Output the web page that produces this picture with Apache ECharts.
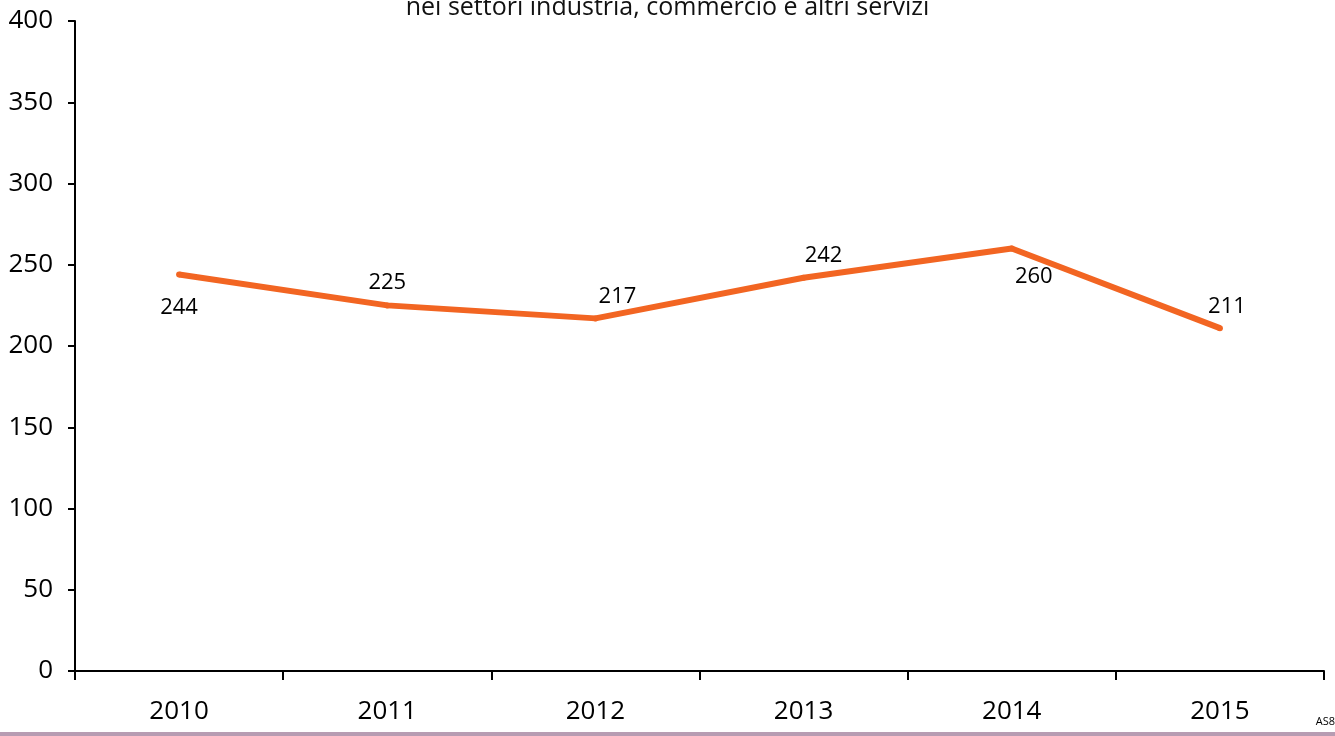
<!DOCTYPE html>
<html>
<head>
<meta charset="utf-8">
<script src="https://cdn.jsdelivr.net/npm/echarts@6/dist/echarts.min.js"></script>
<style>
  html, body { margin: 0; padding: 0; background: #fff; }
  #main { width: 1335px; height: 736px; }
</style>
</head>
<body>
<div id="main"></div>
<script>
var years = ['2010', '2011', '2012', '2013', '2014', '2015'];
var values = [244, 225, 217, 242, 260, 211];
var titleText = 'nei settori industria, commercio e altri servizi';

var chart = echarts.init(document.getElementById('main'));

// where each value label sits relative to its point
var labelSide = function(i) {
	switch (i) {
		case 0: return { position: 'bottom', offset: [0, 11] };
		case 1: return { position: 'top', offset: [0, -1] };
		case 2: return { position: 'top', offset: [22, 0] };
		case 3: return { position: 'top', offset: [20, 0] };
		case 4: return { position: 'bottom', offset: [22, 6] };
		default: return { position: 'top', offset: [7, 1] };
	}
};

var points = values.map(function(v, i) {
	var s = labelSide(i);
	return { value: v, label: { position: s.position, offset: s.offset } };
});

var option = {
	animation: false,
	textStyle: { fontFamily: 'Open Sans' },
	title: {
		text: titleText,
		left: 'center',
		top: -10,
		textStyle: { fontFamily: 'Open Sans', fontWeight: 'normal', fontSize: 25, color: '#111' }
	},
	grid: { left: 75, right: 11, top: 21, bottom: 65, containLabel: false },
	xAxis: {
		type: 'category',
		data: years,
		boundaryGap: true,
		axisLine: { lineStyle: { color: '#000', width: 2 } },
		axisTick: { show: true, length: 9, lineStyle: { color: '#000', width: 2 } },
		axisLabel: { color: '#000', fontSize: 26, margin: 28 },
		splitLine: { show: false }
	},
	yAxis: {
		type: 'value',
		min: 0,
		max: 400,
		interval: 50,
		axisLine: { show: true, lineStyle: { color: '#000', width: 2 } },
		axisTick: { show: true, length: 7, lineStyle: { color: '#000', width: 2 } },
		axisLabel: { color: '#000', fontSize: 26, margin: 22 },
		splitLine: { show: false }
	},
	series: [{
		type: 'line',
		data: points,
		symbol: 'circle',
		symbolSize: 6,
		showSymbol: true,
		itemStyle: { color: '#f26522' },
		lineStyle: { color: '#f26522', width: 6 },
		label: { show: true, color: '#000', fontSize: 22, distance: 8 }
	}],
	graphic: [
		{ type: 'rect', left: 0, top: 732, shape: { width: 1335, height: 4 }, style: { fill: '#b79cb2' } },
		{ type: 'text', right: 0, top: 716, style: { text: 'AS8', font: '11px "Open Sans"', fill: '#000' } }
	]
};

chart.setOption(option);
</script>
</body>
</html>
